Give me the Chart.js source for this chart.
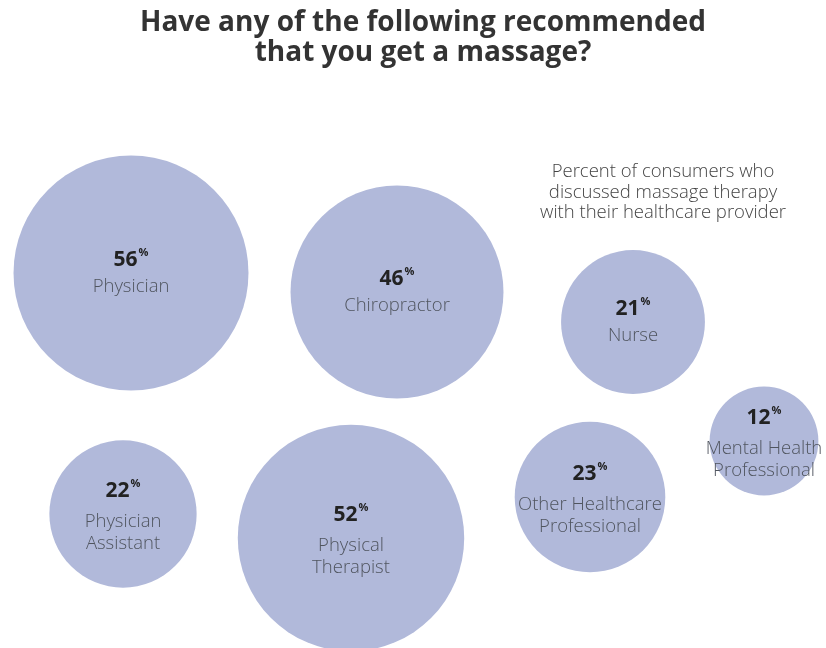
<!DOCTYPE html>
<html>
<head>
<meta charset="utf-8">
<title>Massage recommendations</title>
<script src="https://cdn.jsdelivr.net/npm/chart.js@4"></script>
<style>
  html, body { margin: 0; padding: 0; background: #fff; }
  #wrap { width: 826px; height: 648px; position: relative; }
</style>
</head>
<body>
<div id="wrap"><canvas id="bubbles" width="826" height="648"></canvas></div>
<script>
// Percent of consumers, by provider who recommended a massage
const categories = [
  ['Physician'],
  ['Chiropractor'],
  ['Nurse'],
  ['Mental Health', 'Professional'],
  ['Other Healthcare', 'Professional'],
  ['Physical', 'Therapist'],
  ['Physician', 'Assistant']
];
const values = [56, 46, 21, 12, 23, 52, 22];

// where each bubble sits on the page
const placeX = [131, 397, 633, 764, 590, 351, 123];
const placeY = [273, 292, 322, 441, 497, 538, 514];

const titleLines = ['Have any of the following recommended', 'that you get a massage?'];
const noteLines = ['Percent of consumers who', 'discussed massage therapy', 'with their healthcare provider'];

// bubble area follows the percent
const RADIUS_K = 15.7;

const FONT = '"Open Sans", "Noto Sans", sans-serif';

const labelPlugin = {
  id: 'bubbleLabels',
  afterDatasetsDraw(chart) {
    const c = chart.ctx;
    const meta = chart.getDatasetMeta(0);
    c.save();
    c.textBaseline = 'middle';
    meta.data.forEach((pt, i) => {
      const lines = categories[i];
      const numY = lines.length > 1 ? pt.y - 23 : pt.y - 13;
      const txt = String(values[i]);
      c.font = 'bold 21px ' + FONT;
      const w = c.measureText(txt).width;
      c.font = 'bold 11px ' + FONT;
      const pw = c.measureText('%').width;
      const left = pt.x - (w + pw + 1) / 2;
      c.textAlign = 'left';
      c.fillStyle = '#222';
      c.font = 'bold 21px ' + FONT;
      c.fillText(txt, left, numY);
      c.font = 'bold 11px ' + FONT;
      c.fillText('%', left + w + 1, numY - 7);
      c.textAlign = 'center';
      c.fillStyle = '#50555f';
      c.font = '300 18.5px ' + FONT;
      const startY = lines.length > 1 ? pt.y + 8 : pt.y + 14;
      lines.forEach((ln, j) => c.fillText(ln, pt.x, startY + j * 21.5));
    });
    c.restore();
  },
  afterDraw(chart) {
    const c = chart.ctx;
    c.save();
    c.textAlign = 'center';
    c.textBaseline = 'middle';
    c.fillStyle = '#333';
    c.font = 'bold 28px ' + FONT;
    titleLines.forEach((ln, j) => c.fillText(ln, 423, 23 + j * 30));
    c.fillStyle = '#444';
    c.font = '300 18.5px ' + FONT;
    noteLines.forEach((ln, j) => c.fillText(ln, 663, 172 + j * 20.5));
    c.restore();
  }
};

new Chart(document.getElementById('bubbles'), {
  type: 'bubble',
  data: {
    datasets: [{
      data: values.map((v, i) => ({ x: placeX[i], y: placeY[i], r: RADIUS_K * Math.sqrt(v) })),
      backgroundColor: '#b1b9da',
      borderWidth: 0,
      hoverBorderWidth: 0,
      hoverRadius: 0,
      clip: false
    }]
  },
  options: {
    responsive: false,
    animation: false,
    events: [],
    layout: { padding: 0, autoPadding: false },
    scales: {
      x: { type: 'linear', min: 0, max: 826, display: false },
      y: { type: 'linear', min: 0, max: 648, reverse: true, display: false }
    },
    plugins: {
      legend: { display: false },
      tooltip: { enabled: false },
      title: { display: false }
    }
  },
  plugins: [labelPlugin]
});
</script>
</body>
</html>
